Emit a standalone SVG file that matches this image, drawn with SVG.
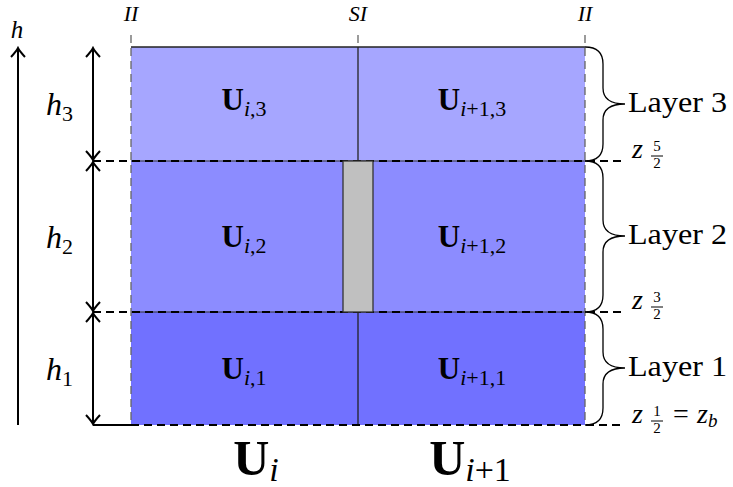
<svg xmlns="http://www.w3.org/2000/svg" width="733" height="487" viewBox="0 0 733 487">
<defs>
<style>
.it{font-style:italic}
.b{font-weight:bold}
.dim{stroke:#000;stroke-width:2;fill:none}
.dash{stroke:#000;stroke-width:2;stroke-dasharray:8 5;fill:none}
.gdash{stroke:#666;stroke-width:1.3;stroke-dasharray:8 5;fill:none}
.brace{stroke:#000;stroke-width:1.3;fill:none}
</style>
<marker id="tip" viewBox="-12 -10 14 20" markerWidth="14" markerHeight="20" refX="0" refY="0" orient="auto-start-reverse" markerUnits="userSpaceOnUse">
<path d="M-9,-7 Q-3,-1.5 0,0 Q-3,1.5 -9,7" fill="none" stroke="#000" stroke-width="2"/>
</marker>
</defs>
<rect width="733" height="487" fill="#fff"/>

<g id="layer3">
<rect x="131" y="47" width="454" height="114" fill="#a6a6ff"/>
</g>
<g id="layer2">
<rect x="131" y="161" width="454" height="151" fill="#8c8cff"/>
</g>
<g id="layer1">
<rect x="131" y="312" width="454" height="113" fill="#7171ff"/>
</g>

<g id="connectors">
<line x1="131" y1="47" x2="585" y2="47" stroke="#222" stroke-width="1.5"/>
<line x1="358" y1="47" x2="358" y2="425" stroke="#222" stroke-width="1.3"/>
<line x1="131" y1="161" x2="585" y2="161" stroke="#333" stroke-width="1"/>
<line x1="131" y1="312" x2="585" y2="312" stroke="#333" stroke-width="1"/>
<line x1="131" y1="35" x2="131" y2="425" class="gdash"/>
<line x1="358" y1="35" x2="358" y2="47" class="gdash"/>
<line x1="585" y1="35" x2="585" y2="425" class="gdash"/>
<line x1="93" y1="161" x2="622" y2="161" class="dash"/>
<line x1="93" y1="312" x2="622" y2="312" class="dash"/>
<line x1="131" y1="425" x2="622" y2="425" class="dash"/>
<line x1="93" y1="425" x2="131" y2="425" stroke="#000" stroke-width="2"/>
<line x1="18" y1="425" x2="18" y2="48" class="dim" marker-end="url(#tip)"/>
<line x1="93" y1="160" x2="93" y2="48" class="dim" marker-start="url(#tip)" marker-end="url(#tip)"/>
<line x1="93" y1="311" x2="93" y2="162" class="dim" marker-start="url(#tip)" marker-end="url(#tip)"/>
<line x1="93" y1="424" x2="93" y2="313" class="dim" marker-start="url(#tip)" marker-end="url(#tip)"/>
<path class="brace" d="M585,47 C598,47 603,54 603,64 L603,88 C603,98 610,104 625,104 C610,104 603,110 603,120 L603,144 C603,154 598,161 585,161"/>
<path class="brace" d="M585,161 C598,161 603,168 603,178 L603,220 C603,230 610,236 625,236 C610,236 603,242 603,252 L603,295 C603,305 598,312 585,312"/>
<path class="brace" d="M585,312 C598,312 603,319 603,329 L603,352 C603,362 610,368 625,368 C610,368 603,374 603,384 L603,408 C603,418 598,425 585,425"/>
</g>

<g id="gate">
<rect x="343" y="161" width="30" height="151" fill="#c0c0c0" stroke="#333" stroke-width="1.3"/>
</g>

<g id="labels" font-family="Liberation Serif, serif" fill="#000">
<text x="17" y="38" class="it" font-size="25" text-anchor="middle">h</text>
<text x="131" y="21" class="it" font-size="22" text-anchor="middle">II</text>
<text x="358" y="21" class="it" font-size="22" text-anchor="middle">SI</text>
<text x="585" y="21" class="it" font-size="22" text-anchor="middle">II</text>

<text x="46" y="115" font-size="32"><tspan class="it">h</tspan><tspan font-size="22" dy="6">3</tspan></text>
<text x="46" y="248" font-size="32"><tspan class="it">h</tspan><tspan font-size="22" dy="6">2</tspan></text>
<text x="46" y="380" font-size="32"><tspan class="it">h</tspan><tspan font-size="22" dy="6">1</tspan></text>

<text x="244" y="110" text-anchor="middle"><tspan class="b" font-size="31">U</tspan><tspan class="it" font-size="22" dy="6">i</tspan><tspan font-size="22">,3</tspan></text>
<text x="472" y="110" text-anchor="middle"><tspan class="b" font-size="31">U</tspan><tspan class="it" font-size="22" dy="6">i</tspan><tspan font-size="22">+1,3</tspan></text>
<text x="244" y="247" text-anchor="middle"><tspan class="b" font-size="31">U</tspan><tspan class="it" font-size="22" dy="6">i</tspan><tspan font-size="22">,2</tspan></text>
<text x="472" y="247" text-anchor="middle"><tspan class="b" font-size="31">U</tspan><tspan class="it" font-size="22" dy="6">i</tspan><tspan font-size="22">+1,2</tspan></text>
<text x="244" y="379" text-anchor="middle"><tspan class="b" font-size="31">U</tspan><tspan class="it" font-size="22" dy="6">i</tspan><tspan font-size="22">,1</tspan></text>
<text x="472" y="379" text-anchor="middle"><tspan class="b" font-size="31">U</tspan><tspan class="it" font-size="22" dy="6">i</tspan><tspan font-size="22">+1,1</tspan></text>

<text x="256" y="475" text-anchor="middle"><tspan class="b" font-size="50">U</tspan><tspan class="it" font-size="34" dy="6">i</tspan></text>
<text x="470" y="475" text-anchor="middle"><tspan class="b" font-size="50">U</tspan><tspan class="it" font-size="34" dy="6">i</tspan><tspan font-size="34">+1</tspan></text>

<text x="628" y="112" font-size="30" textLength="99" lengthAdjust="spacingAndGlyphs">Layer 3</text>
<text x="628" y="244" font-size="30" textLength="99" lengthAdjust="spacingAndGlyphs">Layer 2</text>
<text x="628" y="376" font-size="30" textLength="99" lengthAdjust="spacingAndGlyphs">Layer 1</text>

<text x="632" y="158" class="it" font-size="28">z</text>
<text x="657" y="151" font-size="15" text-anchor="middle">5</text>
<line x1="651" y1="156" x2="663" y2="156" stroke="#000" stroke-width="1"/>
<text x="657" y="168" font-size="15" text-anchor="middle">2</text>

<text x="632" y="309" class="it" font-size="28">z</text>
<text x="657" y="302" font-size="15" text-anchor="middle">3</text>
<line x1="651" y1="307" x2="663" y2="307" stroke="#000" stroke-width="1"/>
<text x="657" y="319" font-size="15" text-anchor="middle">2</text>

<text x="632" y="423" class="it" font-size="28">z</text>
<text x="657" y="416" font-size="15" text-anchor="middle">1</text>
<line x1="651" y1="421" x2="663" y2="421" stroke="#000" stroke-width="1"/>
<text x="657" y="433" font-size="15" text-anchor="middle">2</text>
<text x="673" y="423" font-size="28">=</text>
<text x="697" y="423" font-size="28"><tspan class="it">z</tspan><tspan class="it" font-size="19" dy="4">b</tspan></text>
</g>
</svg>
